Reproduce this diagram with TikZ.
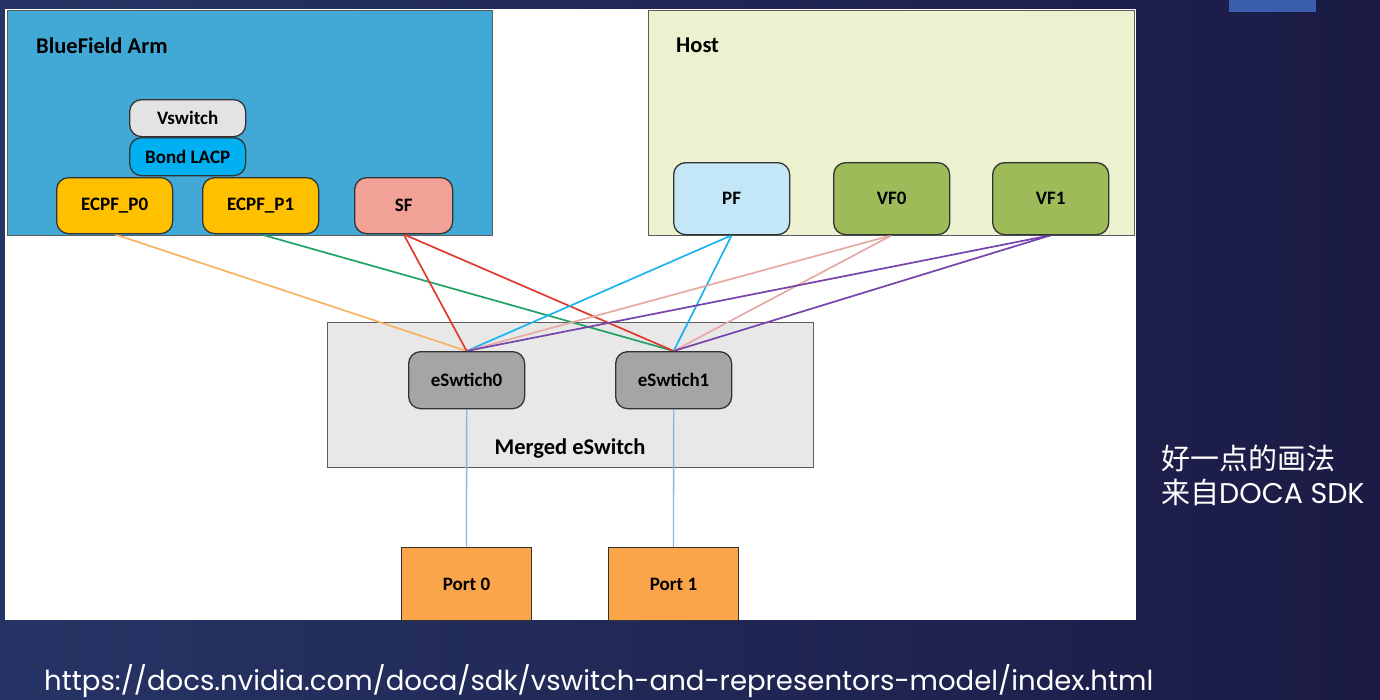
\documentclass[tikz,border=0pt]{standalone}
\usepackage{fontspec}
\setmainfont{Carlito}
\newfontfamily\cjkfont{Noto Sans CJK SC}
\newfontfamily\gothicfont{Poppins}
\pgfdeclarelayer{back}
\pgfdeclarelayer{mid}
\pgfsetlayers{back,mid,main}
\definecolor{bgL}{HTML}{263465}
\definecolor{bgR}{HTML}{1B1B45}
\definecolor{topblue}{HTML}{3B5DAE}
\definecolor{armblue}{HTML}{42A8D6}
\definecolor{hostfill}{HTML}{ECF2CF}
\definecolor{vswfill}{HTML}{E3E3E3}
\definecolor{bondfill}{HTML}{00B0F0}
\definecolor{ecpffill}{HTML}{FFC000}
\definecolor{sffill}{HTML}{F2A197}
\definecolor{pffill}{HTML}{C4E7F8}
\definecolor{vffill}{HTML}{9DBB59}
\definecolor{mergedfill}{HTML}{E8E8E8}
\definecolor{eswfill}{HTML}{A5A5A5}
\definecolor{portfill}{HTML}{FBA54B}
\definecolor{edgegray}{HTML}{333333}
\definecolor{lorange}{HTML}{F7B266}
\definecolor{lgreen}{HTML}{21A366}
\definecolor{lred}{HTML}{E03A2F}
\definecolor{lcyan}{HTML}{1AB4EE}
\definecolor{lpink}{HTML}{E8A9A4}
\definecolor{lpurple}{HTML}{7444AC}
\definecolor{lvert}{HTML}{8FB3E0}
\begin{document}
\begin{tikzpicture}[x=1pt,y=-1pt,
  container/.style={draw=edgegray!80, line width=1.1pt, inner sep=0pt, anchor=north west},
  rbox/.style={draw=edgegray, line width=1.3pt, rounded corners=12pt, inner sep=0pt,
    minimum width=116pt, anchor=north west, font=\bfseries\fontsize{19}{22}\selectfont},
  portbox/.style={draw=edgegray, line width=1.1pt, fill=portfill, inner sep=0pt,
    minimum width=130pt, minimum height=73pt, anchor=north west, font=\bfseries\fontsize{19}{22}\selectfont},
  title/.style={font=\bfseries\fontsize{22.5}{26}\selectfont, inner sep=0pt},
  link/.style={line width=1.7pt},
  note/.style={text=white, inner sep=0pt, anchor=base west, font=\cjkfont\fontsize{29}{34}\selectfont}
]
\useasboundingbox (0,0) rectangle (1380,699);
\begin{pgfonlayer}{back}
  \shade[left color=bgL, right color=bgR] (0,0) rectangle (1380,699);
  \fill[white] (5,9) rectangle (1136,620);
  \fill[topblue] (1229,0) rectangle (1316,12);
  \node[container, fill=armblue, minimum width=485pt, minimum height=225pt] (arm) at (7,10) {};
  \node[container, fill=hostfill, minimum width=486pt, minimum height=225pt] (host) at (648,10) {};
  \node[container, fill=mergedfill, minimum width=486pt, minimum height=145pt] (merged) at (327,322) {};
\end{pgfonlayer}

\node[title, anchor=base west] (armlbl) at (36,53) {BlueField Arm};
\node[title, anchor=base west] (hostlbl) at (676,52) {Host};
\node[title] (mergedlbl) at (570,449) {Merged eSwitch};

\node[rbox, fill=vswfill, minimum height=37pt] (vsw) at (129,99) {Vswitch};
\node[rbox, fill=bondfill, minimum height=38pt] (bond) at (129,137) {Bond LACP};
\node[rbox, fill=ecpffill, minimum height=56pt] (p0) at (56,177) {ECPF\_P0};
\node[rbox, fill=ecpffill, minimum height=56pt] (p1) at (202,177) {ECPF\_P1};
\node[rbox, fill=sffill, minimum height=56pt, minimum width=98pt] (sf) at (354,177) {SF};

\node[rbox, fill=pffill, minimum height=72pt] (pf) at (673,162) {PF};
\node[rbox, fill=vffill, minimum height=72pt] (vf0) at (833,162) {VF0};
\node[rbox, fill=vffill, minimum height=72pt] (vf1) at (992,162) {VF1};

\node[rbox, fill=eswfill, minimum height=57pt] (e0) at (408,351) {eSwtich0};
\node[rbox, fill=eswfill, minimum height=57pt] (e1) at (615,351) {eSwtich1};

\node[portbox] (port0) at (401,547) {Port 0};
\node[portbox] (port1) at (608,547) {Port 1};

\begin{pgfonlayer}{mid}
  \draw[link, lorange] (p0.south) -- (e0.north);
  \draw[link, lgreen] (p1.south) -- (e1.north);
  \draw[link, lred] (sf.south) -- (e0.north);
  \draw[link, lred] (sf.south) -- (e1.north);
  \draw[link, lcyan] (pf.south) -- (e0.north);
  \draw[link, lcyan] (pf.south) -- (e1.north);
  \draw[link, lpink] (vf0.south) -- (e0.north);
  \draw[link, lpink] (vf0.south) -- (e1.north);
  \draw[link, lpurple] (vf1.south) -- (e0.north);
  \draw[link, lpurple] (vf1.south) -- (e1.north);
  \draw[line width=1.3pt, lvert] (e0.south) -- (port0.north);
  \draw[line width=1.3pt, lvert] (e1.south) -- (port1.north);
\end{pgfonlayer}

\node[note] (note1) at (1161,469) {好一点的画法};
\node[note] (note2) at (1161,503) {来自{\gothicfont\fontsize{28.5}{34}\selectfont DOCA SDK}};
\node[text=white, inner sep=0pt, anchor=base west] (url) at (44,690)
  {\resizebox{1109pt}{!}{\gothicfont\fontsize{28}{33}\selectfont https://docs.nvidia.com/doca/sdk/vswitch-and-representors-model/index.html}};
\end{tikzpicture}
\end{document}
